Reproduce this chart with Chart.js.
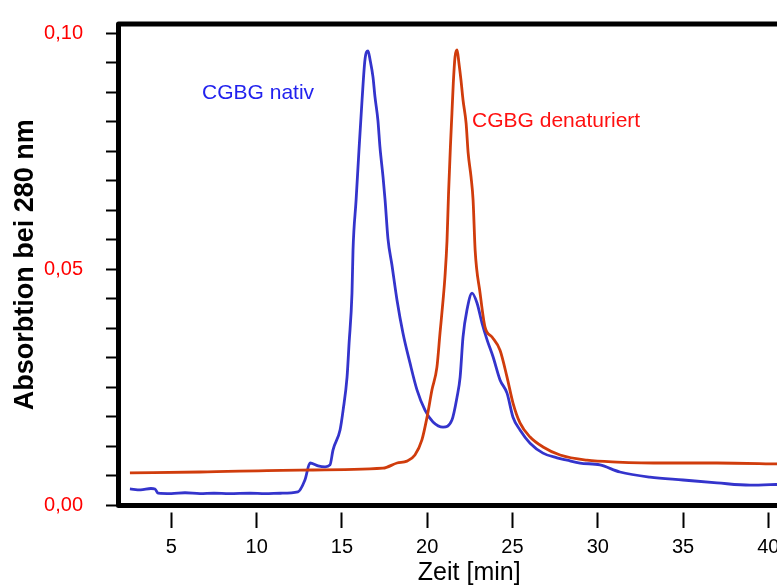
<!DOCTYPE html>
<html lang="de">
<head>
<meta charset="utf-8">
<title>CGBG Gelfiltration</title>
<script src="https://cdn.jsdelivr.net/npm/chart.js@4/dist/chart.umd.min.js"></script>
<style>
  html, body { margin: 0; padding: 0; background: #fff; overflow: hidden; }
  #wrap { width: 777px; height: 588px; overflow: hidden; }
  canvas { display: block; }
</style>
</head>
<body>
<div id="wrap"><canvas id="c" width="820" height="588"></canvas></div>
<script>
// Elution time [min] and absorbance at 280 nm, native CGBG
const nativTime = [2.57, 3.2, 3.8, 4.04, 4.22, 5.0, 5.8, 6.68, 7.5, 8.4, 9.61, 10.5, 11.4, 12.42,
  12.83, 13.13, 13.60, 14.01, 14.30, 14.48, 14.89, 15.07, 15.30, 15.42, 15.59, 15.65, 15.83,
  16.00, 16.18, 16.35, 16.53, 16.65, 16.82, 16.94, 17.11, 17.23, 17.41, 17.53, 17.70,
  17.93, 18.23, 18.58, 18.99, 19.40, 19.87, 20.34, 20.93, 21.45, 21.75, 21.93, 22.10, 22.33,
  22.63, 22.92, 23.21, 23.51, 23.86, 24.27, 24.68, 25.03, 25.44, 26.03, 26.79, 27.61, 28.20,
  28.96, 30.13, 31.30, 33.06, 35.00, 36.99, 38.93, 40.70];
const nativAbs = [0.0035, 0.0033, 0.0036, 0.0035, 0.0026, 0.0025, 0.0027, 0.0025, 0.0026, 0.0025,
  0.0026, 0.0025, 0.0026, 0.0029,
  0.0054, 0.0090, 0.0084, 0.0082, 0.0086, 0.0118, 0.0160, 0.0202, 0.0272, 0.0344, 0.0450,
  0.0541, 0.0647, 0.0753, 0.0859, 0.0944, 0.0963, 0.0944, 0.0908, 0.0865, 0.0816,
  0.0759, 0.0696, 0.0647, 0.0565, 0.0510, 0.0435, 0.0365, 0.0302, 0.0245, 0.0202, 0.0177,
  0.0166, 0.0181, 0.0230, 0.0272, 0.0357, 0.0414, 0.0450, 0.0429, 0.0387, 0.0351, 0.0315,
  0.0266, 0.0238, 0.0187, 0.0160, 0.0132, 0.0111, 0.0101, 0.0096, 0.0090, 0.0086, 0.0071,
  0.0060, 0.0054, 0.0048, 0.0043, 0.0045];

// Elution time [min] and absorbance at 280 nm, denatured CGBG
const denatTime = [2.57, 6.68, 12.54, 17.41, 18.23, 18.81, 19.28, 19.69, 19.99, 20.28, 20.57,
  20.75, 20.93, 21.04, 21.16, 21.25, 21.36, 21.45, 21.53, 21.63, 21.75, 21.86, 21.98, 22.10,
  22.28, 22.40, 22.57, 22.69, 22.81, 23.10, 23.39, 23.80, 24.27, 24.68, 25.03, 25.44, 26.03,
  26.79, 27.79, 29.37, 31.13, 34.06, 36.99, 40.70];
const denatAbs = [0.0069, 0.0071, 0.0075, 0.0079, 0.0090, 0.0094, 0.0107, 0.0139, 0.0187,
  0.0245, 0.0293, 0.0365, 0.0435, 0.0484, 0.0560, 0.0660, 0.0760, 0.0831, 0.0895, 0.0950,
  0.0965, 0.0937, 0.0901, 0.0859, 0.0810, 0.0747, 0.0696, 0.0647, 0.0541, 0.0450, 0.0378,
  0.0357, 0.0329, 0.0272, 0.0217, 0.0175, 0.0145, 0.0124, 0.0107, 0.0096, 0.0092, 0.0090,
  0.0090, 0.0088];

const seriesNames = ['CGBG nativ', 'CGBG denaturiert'];
const yLabelValues = [0.00, 0.05, 0.10];
const xTitle = 'Zeit [min]';
const yTitle = 'Absorbtion bei 280 nm';

const BLUE = 'rgb(52, 52, 204)';
const RED = 'rgb(208, 60, 12)';
const FONT = "'Liberation Sans', Arial, Helvetica, sans-serif";

const toPoints = (xs, ys) => xs.map((x, i) => ({ x: x, y: ys[i] }));

// Closed-on-three-sides frame with rounded corners, drawn over the tick marks
const framePlugin = {
  id: 'frame',
  afterDraw(chart) {
    const { ctx, chartArea: a } = chart;
    ctx.save();
    ctx.strokeStyle = '#000';
    ctx.lineWidth = 5;
    ctx.lineJoin = 'round';
    ctx.beginPath();
    ctx.moveTo(a.right + 10, a.top);
    ctx.lineTo(a.left, a.top);
    ctx.lineTo(a.left, a.bottom);
    ctx.lineTo(a.right + 10, a.bottom);
    ctx.stroke();
    ctx.restore();
  }
};

// Curve names written next to their peaks
const curveLabels = [
  { text: seriesNames[0], t: 6.80, a: 0.0861, color: '#2222ee' },
  { text: seriesNames[1], t: 22.63, a: 0.0802, color: '#ff1010' }
];
const curveLabelPlugin = {
  id: 'curveLabels',
  afterDatasetsDraw(chart) {
    const { ctx, scales } = chart;
    ctx.save();
    ctx.font = '21px ' + FONT;
    ctx.textAlign = 'left';
    ctx.textBaseline = 'alphabetic';
    curveLabels.forEach(l => {
      ctx.fillStyle = l.color;
      ctx.fillText(l.text, scales.x.getPixelForValue(l.t), scales.y.getPixelForValue(l.a));
    });
    ctx.restore();
  }
};

new Chart(document.getElementById('c'), {
  type: 'line',
  data: {
    datasets: [
      {
        label: seriesNames[1],
        data: toPoints(denatTime, denatAbs),
        borderColor: RED,
        borderWidth: 2.8,
        pointRadius: 0,
        cubicInterpolationMode: 'monotone',
        fill: false
      },
      {
        label: seriesNames[0],
        data: toPoints(nativTime, nativAbs),
        borderColor: BLUE,
        borderWidth: 2.8,
        pointRadius: 0,
        cubicInterpolationMode: 'monotone',
        fill: false
      }
    ]
  },
  options: {
    responsive: false,
    animation: false,
    devicePixelRatio: 1,
    layout: { padding: { top: 24, left: 0, right: 0, bottom: 0 } },
    plugins: {
      legend: { display: false },
      tooltip: { enabled: false }
    },
    scales: {
      x: {
        type: 'linear',
        min: 1.9,
        max: 43.03,
        border: { display: false },
        grid: {
          drawOnChartArea: false,
          drawTicks: true,
          tickLength: 22.5,
          tickWidth: 2,
          tickColor: '#000',
          tickBorderDash: [0, 6.5, 16, 100]
        },
        ticks: {
          stepSize: 5,
          includeBounds: false,
          autoSkip: false,
          maxRotation: 0,
          padding: 7,
          color: '#000',
          font: { family: FONT, size: 20 },
          callback: v => String(v)
        },
        title: {
          display: true,
          text: xTitle,
          color: '#000',
          font: { family: FONT, size: 25 },
          padding: { top: 2, bottom: 0 }
        },
        afterFit(scale) {
          scale.height = 82.5;
          scale.paddingLeft = 0;
          scale.paddingRight = 0;
        }
      },
      y: {
        type: 'linear',
        min: 0,
        max: 0.102,
        border: { display: false },
        grid: {
          drawOnChartArea: false,
          drawTicks: true,
          tickLength: 12.5,
          tickWidth: 2,
          tickColor: '#000'
        },
        ticks: {
          stepSize: 0.1 / 16,
          includeBounds: false,
          autoSkip: false,
          padding: 23,
          color: '#ff0000',
          font: { family: FONT, size: 20 },
          callback: v => {
            const hit = yLabelValues.find(l => Math.abs(l - v) < 1e-6);
            return hit === undefined ? '' : hit.toFixed(2).replace('.', ',');
          }
        },
        title: {
          display: true,
          text: yTitle,
          color: '#000',
          font: { family: FONT, size: 27, weight: 'bold' },
          padding: { top: 9, bottom: 0 }
        },
        afterFit(scale) {
          scale.width = 118.5;
          scale.paddingTop = 0;
          scale.paddingBottom = 0;
        }
      }
    }
  },
  plugins: [framePlugin, curveLabelPlugin]
});
</script>
</body>
</html>
